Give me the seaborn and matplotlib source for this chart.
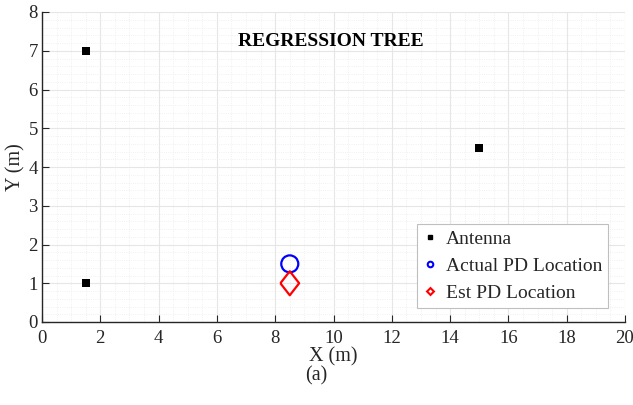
import numpy as np
import pandas as pd
import matplotlib
matplotlib.use("Agg")
import matplotlib.pyplot as plt
import seaborn as sns
from matplotlib.lines import Line2D
from matplotlib.ticker import MultipleLocator

# Data
antenna_x = [1.5, 1.5, 15.0]
antenna_y = [7.0, 1.0, 4.5]
actual_x = [8.5]
actual_y = [1.5]
est_x = [8.5]
est_y = [1.0]

sns.set_theme(style="white")
plt.rcParams['font.family'] = ['Liberation Serif', 'DejaVu Serif']

fig = plt.figure(figsize=(6.33, 4.05), dpi=100)
ax = fig.add_axes([42 / 633, 1 - 322 / 405, 583 / 633, 310 / 405])

# diamond a bit taller than wide, like the matlab one
diamond = [(-0.39, 0), (0, 0.5), (0.39, 0), (0, -0.5), (-0.39, 0)]

sns.scatterplot(x=antenna_x, y=antenna_y, ax=ax, marker='s', s=40,
                color='black', edgecolor='black', linewidth=0, zorder=3)
sns.scatterplot(x=actual_x, y=actual_y, ax=ax, marker='o', s=150,
                facecolor='none', edgecolor='#0000ff', linewidth=1.6, zorder=3)
sns.scatterplot(x=est_x, y=est_y, ax=ax, marker=diamond, s=300,
                facecolor='none', edgecolor='#ff0000', linewidth=1.6, zorder=3)

ax.set_xlim(0, 20)
ax.set_ylim(0, 8)
ax.xaxis.set_major_locator(MultipleLocator(2))
ax.xaxis.set_minor_locator(MultipleLocator(0.5))
ax.yaxis.set_major_locator(MultipleLocator(1))
ax.yaxis.set_minor_locator(MultipleLocator(0.2))

ax.grid(which='major', color='#e6e6e6', linewidth=0.8)
ax.grid(which='minor', color='#ececec', linewidth=0.6, linestyle=':')
ax.set_axisbelow(True)

for s in ['top', 'right']:
    ax.spines[s].set_visible(False)
for s in ['left', 'bottom']:
    ax.spines[s].set_color('#262626')
    ax.spines[s].set_linewidth(1.0)

ax.tick_params(axis='both', which='major', direction='in', length=5, width=0.8,
               labelsize=13.5, colors='#262626', pad=3, left=True, bottom=True)
ax.tick_params(axis='x', which='major', pad=6)
ax.tick_params(axis='both', which='minor', length=0)

ax.set_xlabel('X (m)', fontsize=14.5, color='#262626', labelpad=0)
ax.set_ylabel('Y (m)', fontsize=14.5, color='#262626', labelpad=2)

ax.text(9.9, 7.23, 'REGRESSION TREE', ha='center', va='center',
        fontsize=14, fontweight='bold', color='black')

handles = [
    Line2D([], [], marker='s', linestyle='none', color='black', markersize=3),
    Line2D([], [], marker='o', linestyle='none', markerfacecolor='none',
           markeredgecolor='#0000ff', markeredgewidth=1.5, markersize=4),
    Line2D([], [], marker='D', linestyle='none', markerfacecolor='none',
           markeredgecolor='#ff0000', markeredgewidth=1.5, markersize=3.5),
]
labels = ['Antenna', 'Actual PD Location', 'Est PD Location']
leg = ax.legend(handles, labels, loc='lower right', bbox_to_anchor=(0.971, 0.045),
                fontsize=14, frameon=True, fancybox=False, framealpha=1,
                edgecolor='#bfbfbf', handlelength=0.8, handletextpad=0.4,
                borderpad=0.3, labelspacing=0.5, borderaxespad=0)
leg.get_frame().set_linewidth(0.8)

fig.text(316 / 633, 1 - 376 / 405, '(a)', ha='center', va='center',
         fontsize=14.5, color='#262626')

fig.savefig('out.png', dpi=100)
